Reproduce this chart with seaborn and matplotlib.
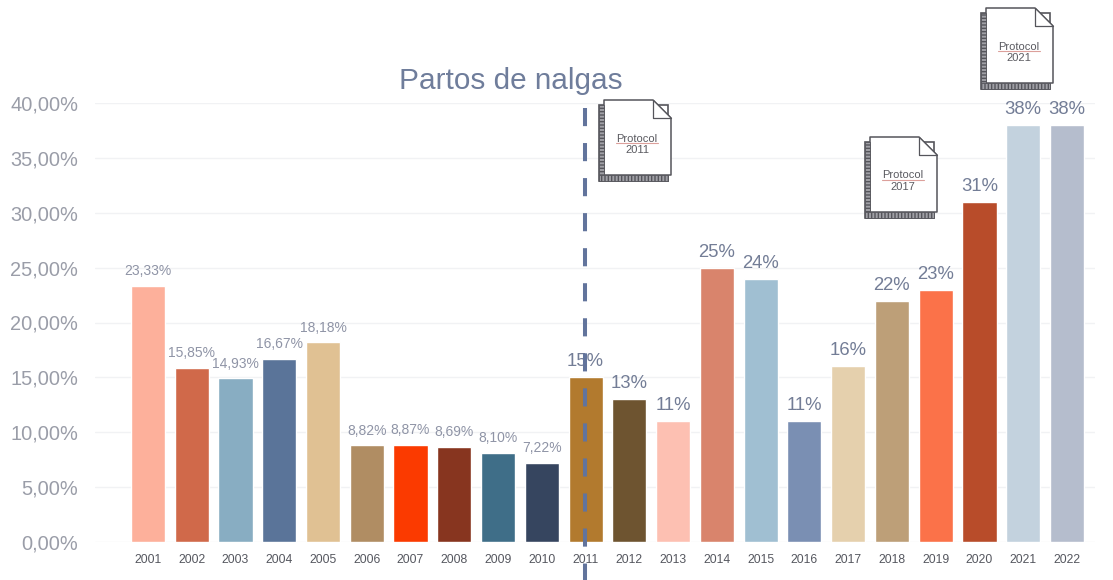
import seaborn as sns
import matplotlib.pyplot as plt
import matplotlib.patches as mpatches
import matplotlib.transforms as mtransforms
import pandas as pd

years = [str(y) for y in range(2001, 2023)]
values = [23.33, 15.85, 14.93, 16.67, 18.18, 8.82, 8.87, 8.69, 8.10, 7.22, 15,
          13, 11, 25, 24, 11, 16, 22, 23, 31, 38, 38]
labels = ['23,33%', '15,85%', '14,93%', '16,67%', '18,18%', '8,82%', '8,87%',
          '8,69%', '8,10%', '7,22%', '15%', '13%', '11%', '25%', '24%', '11%',
          '16%', '22%', '23%', '31%', '38%', '38%']
colors = ['#fdb09b', '#d0694a', '#88adc2', '#5a7499', '#e0c193', '#b08d63',
          '#fb3a00', '#87351f', '#3f6e88', '#36455f', '#b27a2e', '#6e5430',
          '#fdc0b2', '#d9846c', '#a0bfd2', '#7a8fb3', '#e5d0ad', '#bd9f78',
          '#fb7249', '#b84c2a', '#c3d2de', '#b5bdcd']
y_ticks = [0, 5, 10, 15, 20, 25, 30, 35, 40]
y_tick_labels = ['0,00%', '5,00%', '10,00%', '15,00%', '20,00%', '25,00%',
                 '30,00%', '35,00%', '40,00%']

W, H = 1113, 580

sns.set_theme(style='white')
plt.rcParams['font.family'] = ['Liberation Sans', 'DejaVu Sans']

fig = plt.figure(figsize=(W / 100, H / 100), dpi=100)
ax = fig.add_axes([95 / W, (H - 542) / H, 1000 / W, 439 / H])

df = pd.DataFrame({'year': years, 'value': values})
sns.barplot(data=df, x='year', y='value', hue='year', palette=colors,
            saturation=1, width=0.78, legend=False, ax=ax, zorder=2)

ax.set_xlim(-1.21, 21.64)
ax.set_ylim(0, 40)
ax.set_xlabel('')
ax.set_ylabel('')
ax.set_yticks(y_ticks)
ax.set_yticklabels(y_tick_labels)
ax.tick_params(axis='y', length=0, pad=12, labelsize=14.4, labelcolor='#9a9da8')
ax.tick_params(axis='x', length=0, pad=8.5, labelsize=8.7, labelcolor='#55575f')
ax.grid(axis='y', color='#f1f2f4', linewidth=1)
ax.set_axisbelow(True)
sns.despine(ax=ax, left=True, bottom=True)

# etiquetas: las de 2001-2010 son mas pequenas
for i, cont in enumerate(ax.containers):
    small = i < 10
    ax.bar_label(cont, labels=[labels[i]], padding=5.5 if small else 5,
                 fontsize=10 if small else 13.3,
                 color='#8f94a6' if small else '#737d96')

# linea vertical del protocolo 2011
ax.axvline(9.98, ymin=0.989, ymax=-0.087, color='#62749c', linewidth=2.9,
           linestyle=(0, (4.5, 4.2)), clip_on=False, zorder=5)

fig.text(511 / W, (H - 81) / H, 'Partos de nalgas', ha='center', va='center',
         fontsize=21.4, color='#6f7d9b')

# coordenadas en pixeles, origen arriba a la izquierda
px = mtransforms.Affine2D().scale(1, -1).translate(0, H)


def draw_icon(x0, y0, year):
    w, h = 72, 81
    edge = '#55555b'
    fig.add_artist(mpatches.Rectangle((x0, y0 + 5), w - 3, h - 5, facecolor='white',
                                      edgecolor=edge, linewidth=1.2, transform=px))
    page = [(x0 + 5, y0), (x0 + w - 18, y0), (x0 + w, y0 + 18),
            (x0 + w, y0 + h - 6), (x0 + 5, y0 + h - 6)]
    fig.add_artist(mpatches.Polygon(page, closed=True, facecolor='white', edgecolor=edge,
                                    linewidth=1.1, joinstyle='round', transform=px))
    fold = [(x0 + w - 18, y0), (x0 + w - 18, y0 + 18), (x0 + w, y0 + 18)]
    fig.add_artist(mpatches.Polygon(fold, closed=True, facecolor='white', edgecolor=edge,
                                    linewidth=0.9, joinstyle='round', transform=px))
    # encuadernacion rayada
    fig.add_artist(mpatches.Rectangle((x0, y0 + 5), 5, h - 5, facecolor='#a0a0a6',
                                      edgecolor=edge, linewidth=0.6, hatch='-----',
                                      transform=px))
    fig.add_artist(mpatches.Rectangle((x0, y0 + h - 6), w - 3, 6, facecolor='#a0a0a6',
                                      edgecolor=edge, linewidth=0.6, hatch='|||||',
                                      transform=px))
    cx = x0 + w / 2 + 2
    cy = y0 + 43
    fig.text(cx / W, (H - cy + 4.5) / H, 'Protocol', ha='center', va='center',
             fontsize=8, color='#5a5a60')
    fig.add_artist(plt.Line2D([cx - 21, cx + 21], [cy, cy], color='#dca09b',
                              linewidth=0.8, transform=px))
    fig.text(cx / W, (H - cy - 7) / H, year, ha='center', va='center',
             fontsize=8, color='#5a5a60')


draw_icon(599, 100, '2011')
draw_icon(865, 137, '2017')
draw_icon(981, 8, '2021')

fig.savefig('out.png', dpi=100)
